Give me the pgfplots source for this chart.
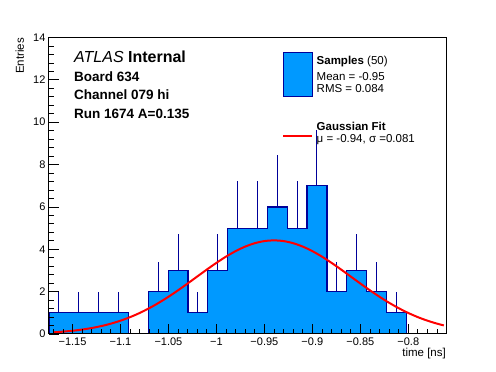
\documentclass[border=0pt]{standalone}
\usepackage{fontspec}
\setmainfont{Liberation Sans}
\usepackage{pgfplots}
\pgfplotsset{compat=1.18}
\definecolor{histfill}{RGB}{0,153,255}
\definecolor{histline}{RGB}{0,0,153}
\begin{document}
\begin{tikzpicture}
\path[use as bounding box, fill=white] (0pt,0pt) rectangle (496pt,372pt);
\begin{axis}[
  at={(49pt,38pt)}, anchor=south west,
  width=397pt, height=296.5pt, scale only axis,
  xmin=-1.1745, xmax=-0.7607, ymin=0, ymax=14,
  axis on top,
  axis line style={line width=1pt, black},
  tick align=inside, xtick pos=bottom, ytick pos=left,
  major tick length=10pt, minor tick length=5pt,
  every tick/.style={black, line width=0.8pt},
  xtick={-1.15,-1.1,-1.05,-1,-0.95,-0.9,-0.85,-0.8},
  xticklabels={−1.15,−1.1,−1.05,−1,−0.95,−0.9,−0.85,−0.8},
  minor xtick={-1.17,-1.16,-1.14,-1.13,-1.12,-1.11,-1.09,-1.08,-1.07,-1.06,-1.04,-1.03,-1.02,-1.01,-0.99,-0.98,-0.97,-0.96,-0.94,-0.93,-0.92,-0.91,-0.89,-0.88,-0.87,-0.86,-0.84,-0.83,-0.82,-0.81,-0.79,-0.78,-0.77},
  ytick={0,2,4,6,8,10,12,14},
  minor y tick num=4,
  /pgf/number format/assume math mode=true,
  tick label style={font=\fontsize{11}{13}\selectfont},
  clip=true,
]
% error bars (upper half visible above the bars)
\addplot[only marks, mark size=0pt, draw=histline,
  error bars/.cd, y dir=plus, y explicit, error mark=none,
  error bar style={histline, line width=1pt}]
coordinates {
(-1.1641,1) +- (0,1)
(-1.1434,1) +- (0,1)
(-1.1227,1) +- (0,1)
(-1.1020,1) +- (0,1)
(-1.0607,2) +- (0,1.414)
(-1.0400,3) +- (0,1.732)
(-1.0193,1) +- (0,1)
(-0.9986,3) +- (0,1.732)
(-0.9779,5) +- (0,2.236)
(-0.9572,5) +- (0,2.236)
(-0.9365,6) +- (0,2.449)
(-0.9158,5) +- (0,2.236)
(-0.8952,7) +- (0,2.646)
(-0.8745,2) +- (0,1.414)
(-0.8538,3) +- (0,1.732)
(-0.8331,2) +- (0,1.414)
(-0.8124,1) +- (0,1)
};
% histogram
\addplot[const plot, fill=histfill, draw=histline, line width=1.2pt]
coordinates {
(-1.1745,1) (-1.1538,1) (-1.1331,1) (-1.1124,1) (-1.0917,0)
(-1.0710,2) (-1.0503,3) (-1.0296,1) (-1.0089,3) (-0.9882,5)
(-0.9676,5) (-0.9469,6) (-0.9262,5) (-0.9055,7) (-0.8848,2)
(-0.8641,3) (-0.8434,2) (-0.8227,1) (-0.8020,0) (-0.7814,0)
(-0.7607,0)
} \closedcycle;
% gaussian fit
\addplot[red, line width=2pt, smooth] coordinates {
(-1.17,0.0785) (-1.16,0.1105) (-1.15,0.1534) (-1.14,0.2096) (-1.13,0.2822)
(-1.12,0.3742) (-1.11,0.4886) (-1.10,0.6283) (-1.09,0.7956) (-1.08,0.9924)
(-1.07,1.2192) (-1.06,1.4751) (-1.05,1.7577) (-1.04,2.0628) (-1.03,2.3842)
(-1.02,2.7139) (-1.01,3.0424) (-1.00,3.3595) (-0.99,3.6533) (-0.98,3.9127)
(-0.97,4.1270) (-0.96,4.2874) (-0.95,4.3865) (-0.94,4.42) (-0.93,4.3865)
(-0.92,4.2874) (-0.91,4.1270) (-0.90,3.9127) (-0.89,3.6533) (-0.88,3.3595)
(-0.87,3.0424) (-0.86,2.7139) (-0.85,2.3842) (-0.84,2.0628) (-0.83,1.7577)
(-0.82,1.4751) (-0.81,1.2192) (-0.80,0.9924) (-0.79,0.7956) (-0.78,0.6283)
(-0.77,0.4886) (-0.763,0.406)
};
\end{axis}
% axis titles
\node[rotate=90, anchor=base east, inner sep=0pt, font=\fontsize{11.5}{13}\selectfont] at (24pt,334pt) {Entries};
\node[anchor=base east, inner sep=0pt, font=\fontsize{11.5}{13}\selectfont] at (446pt,15pt) {time [ns]};
% ATLAS labels
\node[anchor=base west, inner sep=0pt, font=\fontsize{16}{18}\selectfont] at (74pt,309.5pt) {\textit{ATLAS} \textbf{Internal}};
\node[anchor=base west, inner sep=0pt, font=\fontsize{13.5}{15}\selectfont\bfseries] at (74pt,290.5pt) {Board 634};
\node[anchor=base west, inner sep=0pt, font=\fontsize{13.5}{15}\selectfont\bfseries] at (74pt,272pt) {Channel 079 hi};
\node[anchor=base west, inner sep=0pt, font=\fontsize{13.5}{15}\selectfont\bfseries] at (74pt,253.5pt) {Run 1674 A=0.135};
% legend
\fill[histfill, draw=histline, line width=1pt] (283pt,275pt) rectangle (312pt,319pt);
\node[anchor=base west, inner sep=0pt, font=\fontsize{11.5}{13}\selectfont] at (316.5pt,307.7pt) {\textbf{Samples} (50)};
\node[anchor=base west, inner sep=0pt, font=\fontsize{11.5}{13}\selectfont] at (316.5pt,291.3pt) {Mean = -0.95};
\node[anchor=base west, inner sep=0pt, font=\fontsize{11.5}{13}\selectfont] at (316.5pt,279.3pt) {RMS = 0.084};
\draw[red, line width=2pt] (283pt,236.3pt) -- (312pt,236.3pt);
\node[anchor=base west, inner sep=0pt, font=\fontsize{11.5}{13}\selectfont] at (316.5pt,241pt) {\textbf{Gaussian Fit}};
\node[anchor=base west, inner sep=0pt, font=\fontsize{11.5}{13}\selectfont] at (316.5pt,229.7pt) {μ = -0.94, σ =0.081};
\end{tikzpicture}
\end{document}
